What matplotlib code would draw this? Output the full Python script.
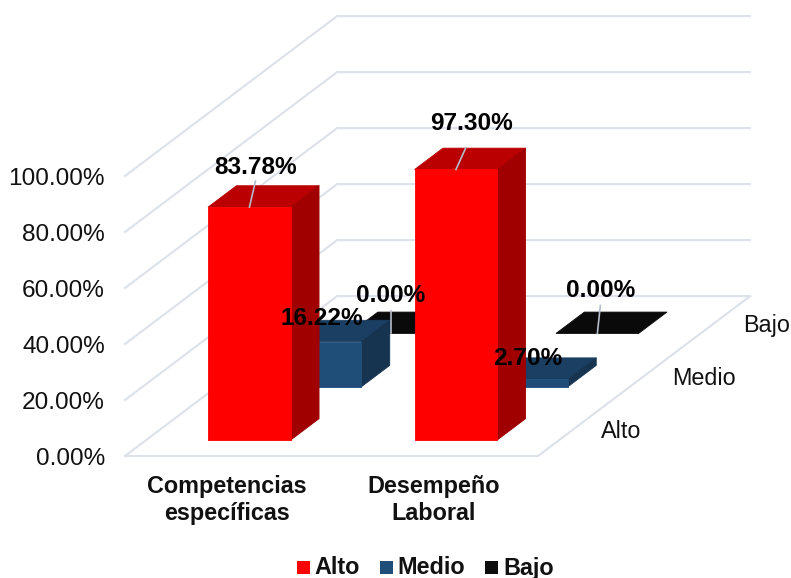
#!/usr/bin/env python
"""3D-look clustered bar chart, drawn on a flat axes with an oblique projection."""
import matplotlib
matplotlib.use('Agg')
import matplotlib.pyplot as plt
from matplotlib.patches import Polygon, Rectangle

plt.rcParams['font.family'] = ['Liberation Sans', 'DejaVu Sans']

categories = ['Competencias\nespecíficas', 'Desempeño\nLaboral']
series = ['Alto', 'Medio', 'Bajo']
alto = [83.78, 97.30]
medio = [16.22, 2.70]
bajo = [0.00, 0.00]
ticks = [0, 20, 40, 60, 80, 100]

COLORS = {'Alto': ('#FF0000', '#BA0000', '#A00000'),
          'Medio': ('#1F4E79', '#1A3F63', '#163450'),
          'Bajo': ('#0D0D0D', '#0A0A0A', '#050505')}
GRID = '#DDE1EA'
FS = 17.6

# projection, in pixels of the 791x578 picture
X0, Y0 = 125, 456
CAT_W = 206.5
DEPTH_X, DEPTH_Y = 70.7, 53.3
PER_UNIT = 2.80
BAR_SCALE = 0.993
BAR_W, BAR_D = 0.4, 0.4


def pt(cat, dep, val=0):
    """category pos, depth pos, value -> pixel position"""
    return (X0 + cat * CAT_W + dep * DEPTH_X,
            Y0 - dep * DEPTH_Y - val * PER_UNIT)


def draw_bar(ax, i, j, v, name):
    front, top, side = COLORS[name]
    v = v * BAR_SCALE
    c0, c1 = i + 0.5 - BAR_W / 2, i + 0.5 + BAR_W / 2
    d0, d1 = j + 0.5 - BAR_D / 2, j + 0.5 + BAR_D / 2
    kw = dict(lw=0.6, joinstyle='round')
    ax.add_patch(Polygon([pt(c0, d0, v), pt(c1, d0, v), pt(c1, d1, v), pt(c0, d1, v)],
                         fc=top, ec=top, **kw))
    if v > 0:
        ax.add_patch(Polygon([pt(c1, d0), pt(c1, d1), pt(c1, d1, v), pt(c1, d0, v)],
                             fc=side, ec=side, **kw))
        ax.add_patch(Polygon([pt(c0, d0), pt(c1, d0), pt(c1, d0, v), pt(c0, d0, v)],
                             fc=front, ec=front, **kw))


fig = plt.figure(figsize=(7.91, 5.78), dpi=100)
ax = fig.add_axes([0, 0, 1, 1])
ax.set_xlim(0, 791); ax.set_ylim(578, 0)
ax.axis('off')

# walls and floor
for t in ticks:
    xs, ys = zip(pt(0, 0, t), pt(0, 3, t), pt(2, 3, t))
    ax.plot(xs, ys, color=GRID, lw=1.5, zorder=0)
    x, y = pt(0, 0, t)
    ax.text(x - 20, y + 3, f'{t:.2f}%', ha='right', va='center', fontsize=FS, color='#111111')
xs, ys = zip(pt(0, 0), pt(2, 0), pt(2, 3))
ax.plot(xs, ys, color=GRID, lw=1.5, zorder=0)

values = {'Alto': alto, 'Medio': medio, 'Bajo': bajo}

# back to front, and left to right within a row, as the columns overlap
for j in (2, 1, 0):
    name = series[j]
    for i, v in enumerate(values[name]):
        draw_bar(ax, i, j, v, name)

# data labels with leader lines: label centre offset from the top of the bar
label_off = {('Alto', 0): (6, -40), ('Alto', 1): (16, -46),
             ('Medio', 0): (2, -23), ('Medio', 1): (1, -21),
             ('Bajo', 0): (0, -38), ('Bajo', 1): (3, -43)}
leader = {('Alto', 0): (6, -26), ('Alto', 1): (10, -22),
          ('Bajo', 0): (0, -22), ('Bajo', 1): (3, -28)}
for j, name in enumerate(series):
    for i, v in enumerate(values[name]):
        x, y = pt(i + 0.5, j + 0.5 - BAR_D / 2, v * BAR_SCALE)
        if (name, i) in leader:
            dx, dy = leader[(name, i)]
            ax.plot([x, x + dx], [y, y + dy], color='#B4BDCB', lw=1.2, zorder=5)
        dx, dy = label_off[(name, i)]
        ax.text(x + dx, y + dy, f'{v:.2f}%', ha='center', va='center', fontsize=FS,
                fontweight='bold', color='black', zorder=6)

# category and depth axis labels
for i, c in enumerate(categories):
    x, y = pt(i + 0.5, 0)
    ax.text(x - 1, y + 44, c, ha='center', va='center', fontsize=FS - 0.8,
            fontweight='bold', color='#111111', linespacing=1.23)
for j, name in enumerate(series):
    x, y = pt(2, j + 0.5)
    ax.text(x + 28, y + 2.5, name, ha='left', va='center', fontsize=FS - 0.8, color='#111111')

# legend
for name, bx, tx in zip(series, (297, 380, 485), (314, 397, 503)):
    ax.add_patch(Rectangle((bx, 561), 13, 13, fc=COLORS[name][0], ec='none'))
    ax.text(tx, 568, name, ha='left', va='center', fontsize=FS - 0.8,
            fontweight='bold', color='#111111')

fig.savefig('out.png', dpi=100)
